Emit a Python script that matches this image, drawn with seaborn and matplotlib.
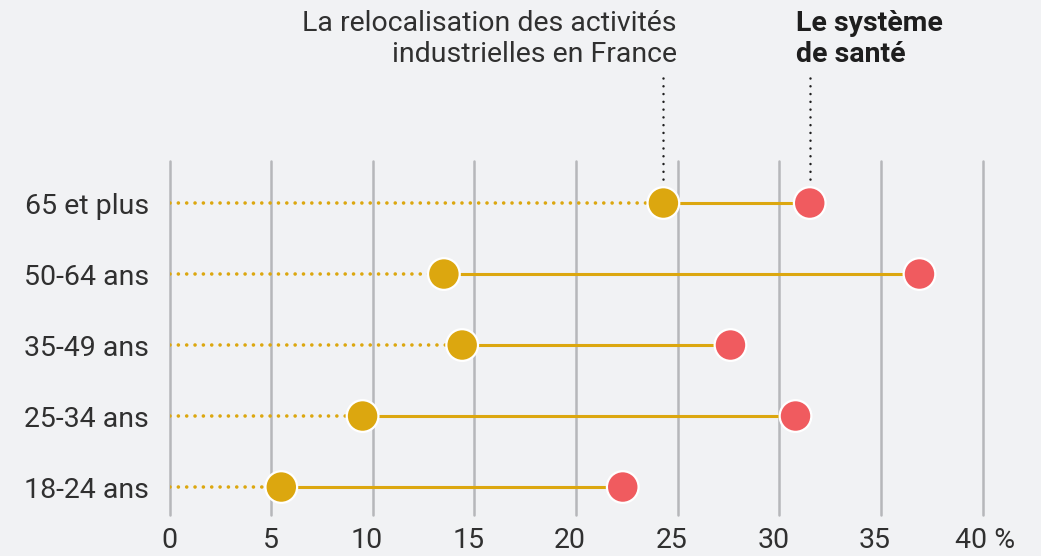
import pandas as pd
import matplotlib.pyplot as plt
import matplotlib.transforms as mtransforms
import seaborn as sns

# data (%)
age_groups = ['65 et plus', '50-64 ans', '35-49 ans', '25-34 ans', '18-24 ans']
relocalisation = [24.3, 13.5, 14.4, 9.5, 5.5]
sante = [31.5, 36.9, 27.6, 30.8, 22.3]
x_ticks = [0, 5, 10, 15, 20, 25, 30, 35, 40]
x_tick_labels = ['0', '5', '10', '15', '20', '25', '30', '35', '40 %']

label_relocalisation = 'La relocalisation des activités\nindustrielles en France'
label_sante = 'Le système\nde santé'

GOLD = '#DCA70F'
RED = '#F05B5F'
BG = '#F1F2F4'
GRID = '#B6B7BA'
TEXT = '#303030'

sns.set_theme(style='white')
plt.rcParams['font.family'] = ['Roboto', 'DejaVu Sans']

df = pd.DataFrame({
    'groupe': age_groups * 2,
    'valeur': relocalisation + sante,
    'serie': ['relocalisation'] * len(age_groups) + ['sante'] * len(age_groups),
})
df['pos'] = df['groupe'].map({g: i for i, g in enumerate(age_groups)})

fig = plt.figure(figsize=(10.41, 5.56), dpi=100, facecolor=BG)
ax = fig.add_axes([169.5 / 1041, 41 / 556, 813 / 1041, 354 / 556])
ax.set_facecolor(BG)

# dotted lead-in from 0 and solid connector between the two points
for i, (a, b) in enumerate(zip(relocalisation, sante)):
    ax.plot([0, a], [i, i], color=GOLD, lw=2.6, linestyle=(0, (0.01, 2.3)),
            dash_capstyle='round', zorder=2)
    ax.plot([a, b], [i, i], color=GOLD, lw=2.2, solid_capstyle='butt', zorder=2)

sns.scatterplot(data=df, x='valeur', y='pos', hue='serie',
                palette={'relocalisation': GOLD, 'sante': RED},
                s=520, edgecolor='white', linewidth=1.6, legend=False,
                ax=ax, zorder=3, clip_on=False)

# dotted pointers from the series labels down to the top row
ax.vlines([relocalisation[0], sante[0]], -1.76, -0.26, colors='#1E1E1E', lw=1.8,
          linestyles=[(0, (0.01, 3.1))], capstyle='round', clip_on=False, zorder=2)

ax.text(relocalisation[0] + 0.65, -2.31, label_relocalisation, ha='right', va='center',
        fontsize=20.5, color=TEXT, linespacing=1.2)
ax.text(sante[0] - 0.7, -2.31, label_sante, ha='left', va='center',
        fontsize=20.5, color='#1E1E1E', linespacing=1.2, fontweight='bold')

ax.set_xlim(0, 40)
ax.set_ylim(4.394, -0.592)
ax.set_xticks(x_ticks)
ax.set_xticklabels(x_tick_labels)
ax.set_yticks(range(len(age_groups)))
ax.set_yticklabels(age_groups)
ax.tick_params(axis='both', length=0, labelsize=20.5, labelcolor=TEXT)
ax.tick_params(axis='x', pad=9)
ax.tick_params(axis='y', pad=15)

# two-digit labels sit a little left of their gridline in the original
for lab in ax.get_xticklabels():
    t = lab.get_text()
    if len(t) == 2:
        lab.set_transform(lab.get_transform() + mtransforms.ScaledTranslation(-6 / 100, 0, fig.dpi_scale_trans))
    elif t.endswith('%'):
        lab.set_transform(lab.get_transform() + mtransforms.ScaledTranslation(3 / 100, 0, fig.dpi_scale_trans))

ax.grid(axis='x', color=GRID, lw=1.8)
ax.grid(axis='y', visible=False)
for gl in ax.get_xgridlines():
    gl.set_clip_on(False)
ax.set_axisbelow(True)
ax.set_xlabel('')
ax.set_ylabel('')
sns.despine(ax=ax, left=True, bottom=True)

fig.savefig('out.png', dpi=100, facecolor=BG)
